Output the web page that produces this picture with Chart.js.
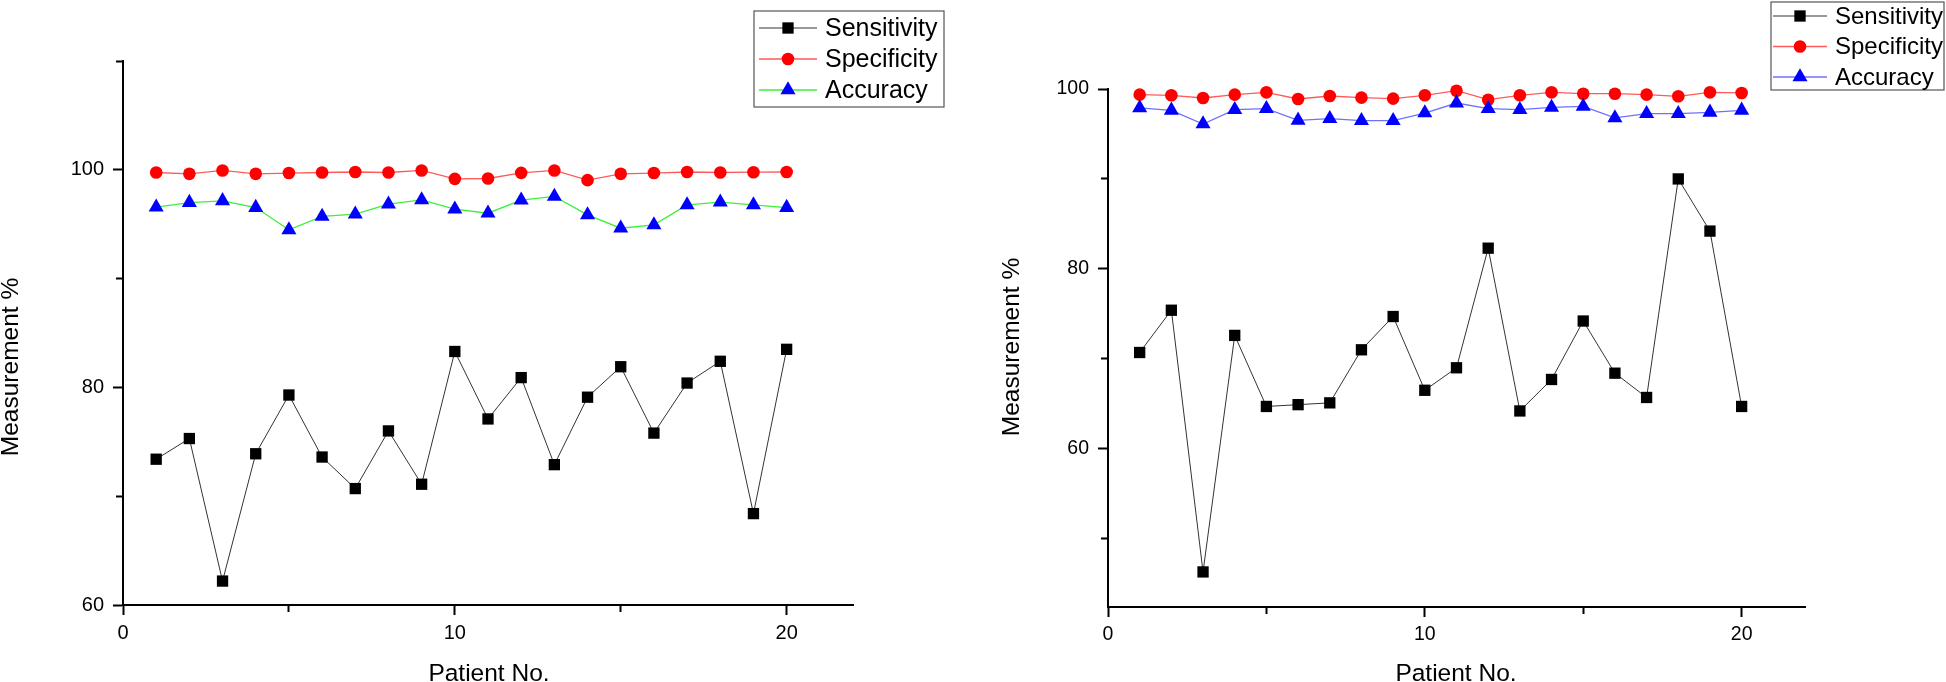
<!DOCTYPE html>
<html>
<head>
<meta charset="utf-8">
<script src="https://cdn.jsdelivr.net/npm/chart.js@4.4.0/dist/chart.umd.min.js"></script>
<style>
  html, body { margin: 0; padding: 0; background: #fff; }
  #wrap { position: relative; width: 1946px; height: 682px; overflow: hidden; }
  .box { position: absolute; top: 0; width: 973px; height: 682px; }
</style>
</head>
<body>
<div id="wrap">
  <div class="box" style="left:0"><canvas id="c1" width="973" height="682"></canvas></div>
  <div class="box" style="left:973px"><canvas id="c2" width="973" height="682"></canvas></div>
</div>
<script>
// data
const patients = [1, 2, 3, 4, 5, 6, 7, 8, 9, 10, 11, 12, 13, 14, 15, 16, 17, 18, 19, 20];

const sensLeft = [73.4, 75.3, 62.2, 73.9, 79.3, 73.6, 70.7, 76.0, 71.1, 83.3,
                  77.1, 80.9, 72.9, 79.1, 81.9, 75.8, 80.4, 82.4, 68.4, 83.5];
const specLeft = [99.75, 99.63, 99.94, 99.63, 99.7, 99.75, 99.8, 99.75, 99.94, 99.17,
                  99.2, 99.72, 99.94, 99.05, 99.63, 99.7, 99.8, 99.75, 99.78, 99.8];
const accLeft  = [96.56, 96.99, 97.15, 96.53, 94.48, 95.71, 95.92, 96.84, 97.24, 96.38,
                  96.01, 97.21, 97.55, 95.86, 94.63, 94.94, 96.78, 97.02, 96.78, 96.53];

const sensRight = [70.7, 75.4, 46.3, 72.6, 64.7, 64.9, 65.1, 71.0, 74.7, 66.5,
                   69.0, 82.3, 64.2, 67.7, 74.2, 68.4, 65.7, 90.0, 84.2, 64.7];
const specRight = [99.37, 99.3, 99.0, 99.37, 99.63, 98.89, 99.22, 99.04, 98.93, 99.3,
                   99.81, 98.81, 99.3, 99.63, 99.48, 99.48, 99.37, 99.19, 99.63, 99.56];
const accRight  = [97.89, 97.63, 96.11, 97.70, 97.81, 96.52, 96.70, 96.48, 96.48, 97.33,
                   98.44, 97.81, 97.70, 97.96, 98.07, 96.78, 97.26, 97.26, 97.41, 97.63];

const xTicks = [0, 5, 10, 15, 20];
const xLabels = [0, 10, 20];
const yTicksLeft = [60, 70, 80, 90, 100, 110];
const yTicksRight = [50, 60, 70, 80, 90, 100];
const yLabels = [60, 80, 100];

const xTitle = 'Patient No.';
const yTitle = 'Measurement %';
const names = ['Sensitivity', 'Specificity', 'Accuracy'];

const FONT = "'Liberation Sans', Arial, sans-serif";

// axis titles and legend box, drawn after the chart
const decor = {
  id: 'decor',
  afterDraw(chart, args, o) {
    const ctx = chart.ctx;
    ctx.save();
    ctx.fillStyle = '#000';
    ctx.font = o.titleSize + 'px ' + FONT;
    ctx.textAlign = 'center';
    ctx.textBaseline = 'alphabetic';
    ctx.fillText(xTitle, o.xTitle[0], o.xTitle[1]);
    ctx.translate(o.yTitle[0], o.yTitle[1]);
    ctx.rotate(-Math.PI / 2);
    ctx.textBaseline = 'middle';
    ctx.fillText(yTitle, 0, 0);
    ctx.restore();

    const L = o.legend;
    ctx.save();
    ctx.strokeStyle = '#555';
    ctx.lineWidth = 1.2;
    ctx.strokeRect(L.x, L.y, L.w, L.h);
    ctx.font = L.size + 'px ' + FONT;
    ctx.textBaseline = 'middle';
    ctx.textAlign = 'left';
    // legend rows follow the order of the names
    names.forEach((name, i) => {
      const ds = chart.data.datasets.find(d => d.label === name);
      const cy = L.y + L.first + i * L.step;
      ctx.strokeStyle = ds.borderColor;
      ctx.lineWidth = ds.borderWidth;
      ctx.beginPath();
      ctx.moveTo(L.x1, cy);
      ctx.lineTo(L.x2, cy);
      ctx.stroke();
      ctx.fillStyle = ds.pointBackgroundColor;
      Chart.helpers.drawPoint(ctx, {pointStyle: ds.pointStyle, radius: ds.pointRadius, rotation: 0, borderWidth: 0},
        (L.x1 + L.x2) / 2, cy);
      ctx.fillStyle = '#000';
      ctx.fillText(name, L.tx, cy + 1);
    });
    ctx.restore();
  }
};

function series(label, data, line, marker, style, radius, order) {
  return {
    label: label,
    data: data.map((v, i) => ({x: patients[i], y: v})),
    borderColor: line,
    borderWidth: label === 'Sensitivity' ? 1 : 1.3,
    pointStyle: style,
    pointRadius: radius,
    pointBackgroundColor: marker,
    pointBorderWidth: 0,
    tension: 0,
    clip: false,
    order: order
  };
}

function makeChart(id, cfg) {
  const tickFont = {family: FONT, size: cfg.tickSize};
  return new Chart(document.getElementById(id), {
    type: 'line',
    data: {
      datasets: [
        series('Sensitivity', cfg.sens, '#333', '#000', 'rect', 8, 2),
        series('Specificity', cfg.spec, '#ff5a5a', '#ff0000', 'circle', 6.3, 1),
        series('Accuracy', cfg.acc, cfg.accLine, '#0000ff', 'triangle', 8.7, 0)
      ]
    },
    options: {
      responsive: false,
      animation: false,
      events: [],
      devicePixelRatio: 1,
      layout: {padding: cfg.padding},
      plugins: {
        legend: {display: false},
        tooltip: {enabled: false},
        decor: cfg.decor
      },
      scales: {
        x: {
          type: 'linear',
          min: 0,
          max: 22,
          afterBuildTicks: s => { s.ticks = xTicks.map(v => ({value: v})); },
          afterFit: s => { s.height = 40; },
          border: {display: true, color: '#000', width: 2},
          grid: {
            display: true, drawOnChartArea: false, drawTicks: true,
            tickLength: 10, tickWidth: 2, tickColor: '#000',
            tickBorderDash: c => xLabels.includes(c.tick.value) ? [] : [6, 100]
          },
          ticks: {
            color: '#000', font: tickFont, padding: 6, maxRotation: 0, autoSkip: false,
            callback: v => xLabels.includes(v) ? String(v) : ''
          }
        },
        y: {
          type: 'linear',
          min: cfg.yMin,
          max: cfg.yMax,
          afterBuildTicks: s => { s.ticks = cfg.yTicks.map(v => ({value: v})); },
          afterFit: s => { s.width = cfg.yWidth; },
          border: {display: true, color: '#000', width: 2},
          grid: {
            display: true, drawOnChartArea: false, drawTicks: true,
            tickLength: 10, tickWidth: 2, tickColor: '#000',
            tickBorderDash: c => yLabels.includes(c.tick.value) ? [] : [0, 3, 6, 100]
          },
          ticks: {
            color: '#000', font: tickFont, padding: 9, autoSkip: false,
            callback: v => yLabels.includes(v) ? String(v) : ''
          }
        }
      }
    },
    plugins: [decor]
  });
}

makeChart('c1', {
  sens: sensLeft, spec: specLeft, acc: accLeft, accLine: '#3cf03c',
  yMin: 60, yMax: 110, yTicks: yTicksLeft, yWidth: 123, tickSize: 20,
  padding: {left: 0, top: 61, right: 120, bottom: 37},
  decor: {
    titleSize: 24.5, xTitle: [489, 681], yTitle: [11, 367],
    legend: {x: 754, y: 11, w: 190, h: 96, first: 17, step: 31, size: 25, x1: 759, x2: 817, tx: 825}
  }
});

makeChart('c2', {
  sens: sensRight, spec: specRight, acc: accRight, accLine: '#7070ff',
  yMin: 42.4, yMax: 100, yTicks: yTicksRight, yWidth: 135, tickSize: 19.5,
  padding: {left: 0, top: 89, right: 141, bottom: 35},
  decor: {
    titleSize: 24.5, xTitle: [483, 681], yTitle: [39, 347],
    legend: {x: 798, y: 2, w: 173, h: 88, first: 14, step: 30.5, size: 24, x1: 800, x2: 854, tx: 862}
  }
});
</script>
</body>
</html>
